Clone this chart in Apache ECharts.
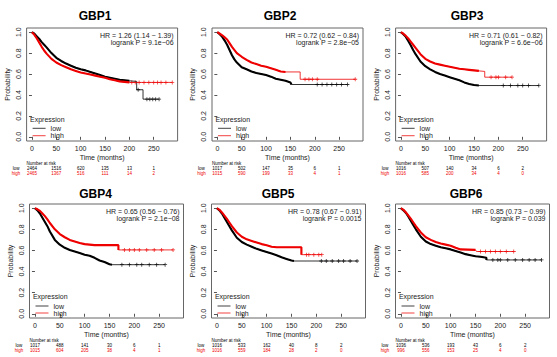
<!DOCTYPE html>
<html><head><meta charset="utf-8">
<script src="https://cdn.jsdelivr.net/npm/echarts@6/dist/echarts.min.js"></script>
<style>html,body{margin:0;padding:0;background:#fff}#c{width:557px;height:357px}</style>
</head><body><div id="c"></div>
<script>
// ---------- data ----------
const genes = ['GBP1', 'GBP2', 'GBP3', 'GBP4', 'GBP5', 'GBP6'];
const hrLines = ['HR = 1.26 (1.14 − 1.39)', 'HR = 0.72 (0.62 − 0.84)', 'HR = 0.71 (0.61 − 0.82)',
                 'HR = 0.65 (0.56 − 0.76)', 'HR = 0.78 (0.67 − 0.91)', 'HR = 0.85 (0.73 − 0.99)'];
const pLines = ['logrank P = 9.1e−06', 'logrank P = 2.8e−05', 'logrank P = 6.6e−06',
                'logrank P = 2.1e−08', 'logrank P = 0.0015', 'logrank P = 0.039'];
const timeTicks = [0, 50, 100, 150, 200, 250];
const probTicks = [0, 0.2, 0.4, 0.6, 0.8, 1.0];
const lowRisk = [[2464, 1516, 620, 135, 13, 1], [1017, 502, 147, 35, 6, 1], [1016, 507, 140, 34, 6, 2],
                 [1017, 488, 141, 30, 6, 1], [1016, 533, 162, 40, 8, 2], [1036, 536, 193, 43, 6, 2]];
const highRisk = [[2465, 1367, 516, 111, 14, 2], [1015, 590, 199, 33, 4, 1], [1016, 585, 200, 34, 4, 0],
                  [1015, 604, 205, 38, 4, 1], [1016, 559, 184, 28, 2, 0], [996, 556, 153, 25, 4, 0]];

const lowCurves = [
  [[0,1],[5,0.985],[10,0.96],[15,0.935],[20,0.905],[25,0.88],[30,0.855],[40,0.8],[50,0.755],[60,0.725],[70,0.7],[80,0.68],[90,0.66],[100,0.645],[110,0.635],[120,0.62],[130,0.605],[140,0.59],[150,0.575],[160,0.565],[170,0.555],[180,0.545],[190,0.54],[200,0.535],[215,0.53],[215,0.45],[228,0.45],[228,0.36],[261,0.36]],
  [[0,1],[5,0.98],[10,0.955],[15,0.92],[20,0.88],[25,0.83],[30,0.78],[35,0.74],[40,0.71],[50,0.665],[60,0.645],[70,0.625],[80,0.61],[90,0.6],[100,0.59],[110,0.575],[120,0.555],[130,0.545],[140,0.535],[150,0.52],[152,0.5],[267,0.5]],
  [[0,1],[5,0.98],[10,0.955],[15,0.915],[20,0.875],[25,0.83],[30,0.79],[40,0.72],[50,0.675],[60,0.645],[70,0.62],[80,0.6],[90,0.585],[100,0.57],[110,0.555],[120,0.54],[130,0.52],[140,0.505],[150,0.495],[160,0.49],[283,0.49]],
  [[0,1],[5,0.98],[10,0.95],[15,0.91],[20,0.87],[25,0.83],[30,0.78],[40,0.7],[50,0.655],[60,0.625],[70,0.605],[80,0.59],[90,0.575],[100,0.56],[110,0.55],[120,0.53],[130,0.505],[140,0.49],[150,0.47],[155,0.465],[262,0.465]],
  [[0,1],[5,0.98],[10,0.95],[15,0.91],[20,0.87],[25,0.83],[30,0.79],[40,0.72],[50,0.68],[60,0.655],[70,0.635],[80,0.615],[90,0.6],[100,0.585],[110,0.57],[120,0.555],[130,0.535],[140,0.52],[150,0.505],[155,0.5],[282,0.5]],
  [[0,1],[5,0.98],[10,0.955],[15,0.92],[20,0.88],[25,0.84],[30,0.8],[40,0.73],[50,0.685],[60,0.66],[70,0.645],[80,0.63],[90,0.62],[100,0.61],[110,0.595],[120,0.58],[130,0.565],[140,0.555],[150,0.545],[160,0.54],[172,0.53],[172,0.51],[283,0.51]]
];
const highCurves = [
  [[0,1],[5,0.975],[10,0.94],[15,0.9],[20,0.86],[25,0.825],[30,0.795],[40,0.745],[50,0.71],[60,0.685],[70,0.665],[80,0.645],[90,0.63],[100,0.615],[110,0.605],[120,0.595],[130,0.585],[140,0.575],[150,0.565],[160,0.55],[170,0.54],[180,0.53],[190,0.525],[200,0.52],[288,0.52]],
  [[0,1],[5,0.985],[10,0.97],[15,0.95],[20,0.93],[25,0.895],[30,0.86],[40,0.8],[50,0.765],[60,0.735],[70,0.71],[80,0.695],[90,0.68],[100,0.67],[110,0.655],[120,0.64],[130,0.625],[140,0.62],[170,0.62],[170,0.55],[283,0.55]],
  [[0,1],[5,0.985],[10,0.965],[15,0.94],[20,0.91],[25,0.88],[30,0.85],[40,0.79],[50,0.745],[60,0.72],[70,0.7],[80,0.69],[90,0.68],[100,0.67],[110,0.66],[120,0.65],[130,0.645],[140,0.64],[150,0.635],[160,0.63],[172,0.625],[172,0.57],[228,0.57]],
  [[0,1],[5,0.99],[10,0.975],[15,0.95],[20,0.925],[25,0.895],[30,0.86],[40,0.8],[50,0.755],[60,0.725],[70,0.7],[80,0.685],[90,0.67],[100,0.66],[110,0.655],[120,0.65],[168,0.65],[168,0.605],[278,0.605]],
  [[0,1],[5,0.985],[10,0.96],[15,0.93],[20,0.9],[25,0.865],[30,0.83],[40,0.77],[50,0.73],[60,0.705],[70,0.69],[80,0.675],[90,0.66],[100,0.65],[110,0.635],[120,0.63],[170,0.63],[170,0.56],[211,0.56]],
  [[0,1],[5,0.985],[10,0.96],[15,0.93],[20,0.9],[25,0.865],[30,0.83],[40,0.77],[50,0.725],[60,0.7],[70,0.68],[80,0.665],[90,0.655],[100,0.645],[110,0.625],[120,0.61],[150,0.605],[152,0.59],[227,0.59]]
];
// time up to which censor marks are so dense that the curve looks thick
const lowDenseEnd = [210, 195, 200, 165, 200, 175];
const highDenseEnd = [200, 168, 170, 168, 170, 150];
// sparse censor marks in the tails (months)
const lowCensor = [[218, 236, 242, 248, 254, 261], [205, 215, 225, 235, 245, 255, 267], [210, 225, 240, 250, 262, 283],
                   [175, 190, 205, 215, 230, 245, 262], [210, 220, 232, 245, 255, 268, 282], [185, 195, 200, 215, 230, 245, 258, 270, 283]];
const highCensor = [[205, 212, 220, 230, 240, 250, 258, 265, 275, 288], [180, 188, 195, 205, 283], [185, 195, 200, 215, 228],
                    [180, 190, 200, 210, 225, 240, 255, 278], [180, 185, 195, 205, 211], [160, 170, 180, 190, 200, 212, 227]];

// ---------- layout ----------
const boxes = [
  {l: 26.6, t: 28, w: 151, h: 113}, {l: 212, t: 28, w: 151, h: 113}, {l: 395.6, t: 28, w: 151, h: 113},
  {l: 29.5, t: 204, w: 154, h: 114}, {l: 211.5, t: 204, w: 154, h: 114}, {l: 395.5, t: 204, w: 154, h: 114}
];
const titleX = [95, 280, 467, 95.5, 278, 466];
const titleY = [15.7, 15.7, 15.7, 194.3, 194.3, 194.3];
const FONT = 'Liberation Sans';
const TXT = '#222222';
const LOWC = '#000000', HIGHC = '#ee0000';
const PLUS = 'path://M4,0h2v10h-2z M0,4h10v2h-10z';
const LEGEND_LINE = 'path://M0,0h26v2h-26z';

function survAt(pts, t) {
  let j = 0;
  for (let k = 0; k < pts.length; k++) if (pts[k][0] <= t) j = k;
  if (j + 1 < pts.length && pts[j + 1][0] > pts[j][0]) {
    const a = pts[j], b = pts[j + 1];
    return a[1] + (b[1] - a[1]) * (t - a[0]) / (b[0] - a[0]);
  }
  return pts[j][1];
}
function txt(text, x, y, size, color, align, bold) {
  return {type: 'text', silent: true, style: {text, x, y, fontSize: size, fontFamily: FONT,
    fontWeight: bold ? 'bold' : 'normal', fill: color, align, verticalAlign: 'middle'}};
}

const grid = [], xAxis = [], yAxis = [], series = [], legend = [], graphic = [];
genes.forEach((g, i) => {
  const b = boxes[i];
  grid.push({left: b.l, top: b.t, width: b.w, height: b.h, show: true, borderColor: '#666', borderWidth: 1, backgroundColor: 'transparent'});
  const baseX = {gridIndex: i, type: 'value', min: -11, max: 299, splitLine: {show: false}, axisLine: {show: false}};
  xAxis.push(Object.assign({}, baseX, {
    position: 'bottom',
    axisTick: {show: true, length: 3, customValues: timeTicks, lineStyle: {color: '#555'}},
    axisLabel: {customValues: timeTicks, fontSize: 7, color: TXT, margin: 4},
    name: 'Time (months)', nameLocation: 'middle', nameGap: 13, nameTextStyle: {fontSize: 7, color: TXT}
  }));
  xAxis.push(Object.assign({}, baseX, {
    position: 'bottom', offset: 24, axisTick: {show: false},
    axisLabel: {customValues: timeTicks, fontSize: 4.5, color: '#000', margin: 1,
      formatter: v => String(lowRisk[i][timeTicks.indexOf(v)])}
  }));
  xAxis.push(Object.assign({}, baseX, {
    position: 'bottom', offset: 28.7, axisTick: {show: false},
    axisLabel: {customValues: timeTicks, fontSize: 4.5, color: HIGHC, margin: 1,
      formatter: v => String(highRisk[i][timeTicks.indexOf(v)])}
  }));
  yAxis.push({
    gridIndex: i, type: 'value', min: -0.04, max: 1.04, splitLine: {show: false}, axisLine: {show: false},
    axisTick: {show: true, length: 3, customValues: probTicks, lineStyle: {color: '#555'}},
    axisLabel: {customValues: probTicks, rotate: 90, fontSize: 7, color: TXT, margin: 5, formatter: v => v.toFixed(1)},
    name: 'Probability', nameLocation: 'middle', nameGap: 16, nameRotate: 90, nameTextStyle: {fontSize: 7, color: TXT}
  });
  const addCurve = (name, pts, denseEnd, censor, color) => {
    series.push({name, type: 'line', xAxisIndex: 3 * i, yAxisIndex: i, data: pts, symbol: 'none',
      lineStyle: {color, width: 0.8}, itemStyle: {color}, silent: true, animation: false});
    series.push({name, type: 'line', xAxisIndex: 3 * i, yAxisIndex: i, data: pts.filter(p => p[0] <= denseEnd),
      symbol: 'none', lineStyle: {color, width: 2.1}, itemStyle: {color}, silent: true, animation: false});
    series.push({name: name + '-censor', type: 'scatter', xAxisIndex: 3 * i, yAxisIndex: i,
      data: censor.map(t => [t, survAt(pts, t)]), symbol: PLUS, symbolSize: 4,
      itemStyle: {color}, silent: true, animation: false});
  };
  addCurve('low', lowCurves[i], lowDenseEnd[i], lowCensor[i], LOWC);
  addCurve('high', highCurves[i], highDenseEnd[i], highCensor[i], HIGHC);

  const bottom = b.t + b.h;
  const legTop = i < 3 ? bottom - 16.2 : bottom - 15.5;
  legend.push({data: [{name: 'low', icon: LEGEND_LINE}, {name: 'high', icon: LEGEND_LINE}],
    left: b.l + 6, top: legTop, orient: 'vertical', padding: 0,
    itemWidth: 13, itemHeight: 1, itemGap: i < 3 ? 0.4 : 0, selectedMode: false,
    itemStyle: {opacity: 0.75},
    textStyle: {fontSize: 7, color: TXT, lineHeight: 7, fontFamily: FONT}});

  graphic.push(txt(g, titleX[i], titleY[i], 12, '#000', 'center', true));
  graphic.push(txt(hrLines[i], b.l + b.w - 4, b.t + 7, 7, TXT, 'right'));
  graphic.push(txt(pLines[i], b.l + b.w - 4, b.t + 14.5, 7, TXT, 'right'));
  graphic.push(txt('Expression', b.l + 3.4, bottom - 21.5, 7, TXT, 'left'));
  graphic.push(txt('Number at risk', b.l, bottom + 22.3, 4.5, '#000', 'left'));
  graphic.push(txt('low', b.l - 10.5, bottom + 27.5, 4.5, '#000', 'center'));
  graphic.push(txt('high', b.l - 10.5, bottom + 32.2, 4.5, HIGHC, 'center'));
});

const chart = echarts.init(document.getElementById('c'), null, {renderer: 'svg'});
chart.setOption({
  animation: false,
  backgroundColor: '#fff',
  textStyle: {fontFamily: FONT},
  grid, xAxis, yAxis, series, legend, graphic
});
</script></body></html>
